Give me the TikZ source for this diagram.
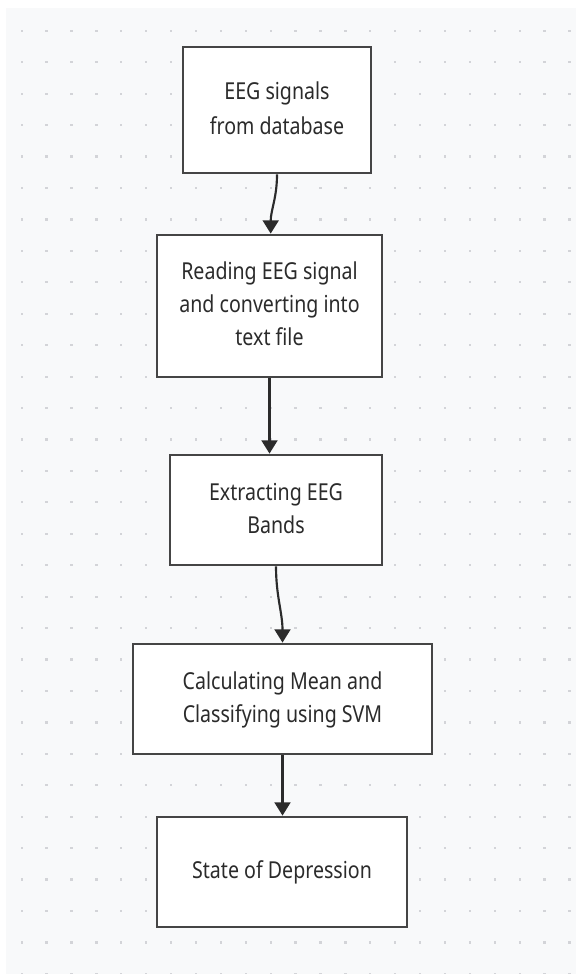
\documentclass[tikz,border=0pt]{standalone}
\usepackage{fontspec}
\setmainfont{Noto Sans}
\usepackage{tikz}
\usetikzlibrary{arrows.meta}
\usetikzlibrary{positioning}
\definecolor{mpaper}{HTML}{F8F9FA}
\definecolor{mdot}{HTML}{D3D4D8}
\definecolor{mframe}{HTML}{454545}
\definecolor{mink}{HTML}{2B2B2B}
\newcommand{\squash}[1]{\scalebox{0.84}[1]{\begin{tabular}{@{}c@{}}#1\end{tabular}}}
\tikzset{stage/.style = {draw = mframe, line width = 2.1pt, fill = white, inner sep = 0,
    text = mink, font = \fontsize{17.5}{24.75}\selectfont, align = center}}
\tikzset{flow/.style = {draw = mink, line width = 1.6pt, -{Triangle[width = 12pt, length = 10pt]}}}
\tikzset{griddot/.style = {fill = mdot, inner sep = 0, minimum size = 1.7pt}}

\begin{document}
\begin{tikzpicture}[x = 0.75pt, y = -0.75pt]
    \useasboundingbox (0, 0) rectangle (576, 974);
    \fill [mpaper] (6, 8) rectangle (576, 974);
    % dotted canvas
    \foreach \i in {0, ..., 22} {
      \foreach \j in {0, ..., 30} {
        \node [griddot] at (21.7 + 24.9 * \i, 30.9 + 31.43 * \j) {};
      }
    }

    \node [stage, minimum width = 141pt, minimum height = 94.5pt] (signals) at (277, 110)
      {\squash{EEG signals\\[1.5pt]from database}};
    \node [stage, minimum width = 168.75pt, minimum height = 106.5pt] (reading) at (269.5, 306)
      {\squash{Reading EEG signal\\and converting into\\text file}};
    \node [stage, minimum width = 159pt, minimum height = 82.5pt] (bands) at (276, 510)
      {\squash{Extracting EEG\\Bands}};
    \node [stage, minimum width = 224.25pt, minimum height = 82.5pt] (svm) at (282.5, 699)
      {\squash{Calculating Mean and\\Classifying using SVM}};
    \node [stage, minimum width = 187.5pt, minimum height = 82.5pt] (state) at (282, 872)
      {\squash{State of Depression}};

    \draw [flow] (signals.south) to [out = -90, in = 90] ([xshift = 0.9pt] reading.north);
    \draw [flow] (reading.south) -- (reading.south |- bands.north);
    \draw [flow] (bands.south) to [out = -90, in = 90] (svm.north);
    \draw [flow] (svm.south) -- (svm.south |- state.north);
  \end{tikzpicture}
\end{document}
